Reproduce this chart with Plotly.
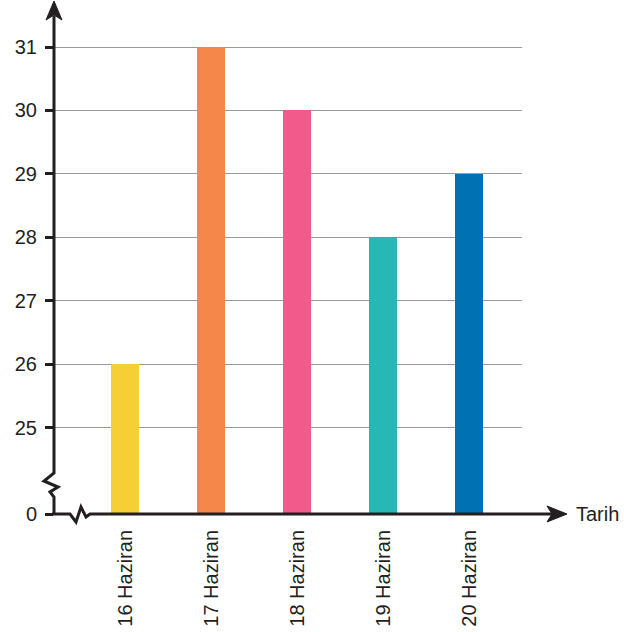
import plotly.graph_objects as go

categories = ["16 Haziran", "17 Haziran", "18 Haziran", "19 Haziran", "20 Haziran"]
values = [26, 31, 30, 28, 29]
colors = ["#F5CF33", "#F5874A", "#F25A8B", "#27B8B5", "#0071B2"]
y_ticks = [25, 26, 27, 28, 29, 30, 31]
x_title = "Tarih"

W, H = 624, 632
L, R, T, B = 54, 522, 20, 514          # plot area in pixels
PW, PH = R - L, B - T
y25_px, y31_px = 427.5, 47
ppu = (y25_px - y31_px) / 6            # pixels per unit on y
y_base = 25 - (B - y25_px) / ppu       # value shown as "0" at the broken axis
y_top = y_base + PH / ppu

cat_px = 86.0
x0 = -(125 - L) / cat_px
x1 = x0 + PW / cat_px

def px(x):
    return (x - L) / PW

def py(y):
    return (B - y) / PH

fig = go.Figure()
fig.add_trace(go.Bar(
    x=list(range(len(categories))), y=values,
    marker=dict(color=colors, line=dict(width=0)),
    width=28 / cat_px,
))

INK = "#231F20"

def path(points):
    return "M " + " L ".join(f"{px(a):.5f},{py(b):.5f}" for a, b in points)

AX = 54
shapes = []
shapes.append(dict(type="path", xref="paper", yref="paper",
                   path=path([(AX, 16), (AX, B - 41), (AX - 10, B - 33), (AX + 4, B - 27),
                              (AX - 4, B - 22), (AX, B - 17), (AX, B)]),
                   line=dict(color=INK, width=3)))
shapes.append(dict(type="path", xref="paper", yref="paper",
                   path=path([(AX - 2, B), (70, B), (76, B + 8), (81, B - 7), (86, B + 3), (90, B), (552, B)]),
                   line=dict(color=INK, width=3)))
shapes.append(dict(type="path", xref="paper", yref="paper",
                   path=path([(AX, 1), (AX - 8, 20), (AX, 15), (AX + 8, 20)]) + " Z",
                   fillcolor=INK, line=dict(color=INK, width=1)))
shapes.append(dict(type="path", xref="paper", yref="paper",
                   path=path([(567, B), (547, B - 8), (552, B), (547, B + 8)]) + " Z",
                   fillcolor=INK, line=dict(color=INK, width=1)))

fig.update_layout(
    width=W, height=H,
    margin=dict(l=L, r=W - R, t=T, b=H - B, pad=0, autoexpand=False),
    paper_bgcolor="white", plot_bgcolor="white",
    showlegend=False,
    bargap=0,
    font=dict(family="Liberation Sans, Arial, sans-serif", size=20, color=INK),
    shapes=shapes,
    xaxis=dict(
        range=[x0, x1], tickmode="array", automargin=False,
        tickvals=list(range(len(categories))), ticktext=categories,
        tickangle=-90, showgrid=False, zeroline=False, showline=False,
        ticks="", ticklabelstandoff=11,
        tickfont=dict(size=20, color=INK),
    ),
    yaxis=dict(
        range=[y_base, y_top], tickmode="array", automargin=False,
        tickvals=[y_base] + y_ticks, ticktext=["0"] + [str(v) for v in y_ticks],
        showgrid=True, gridcolor="#9A9A9A", gridwidth=1,
        zeroline=False, showline=False,
        ticks="outside", ticklen=8, tickwidth=3, tickcolor=INK,
        ticklabelstandoff=4,
        tickfont=dict(size=20, color=INK),
    ),
    annotations=[dict(text=x_title, xref="paper", yref="paper",
                      x=px(574), y=py(B), xanchor="left", yanchor="middle",
                      showarrow=False, font=dict(size=20, color=INK))],
)

fig.write_html("out.html")
